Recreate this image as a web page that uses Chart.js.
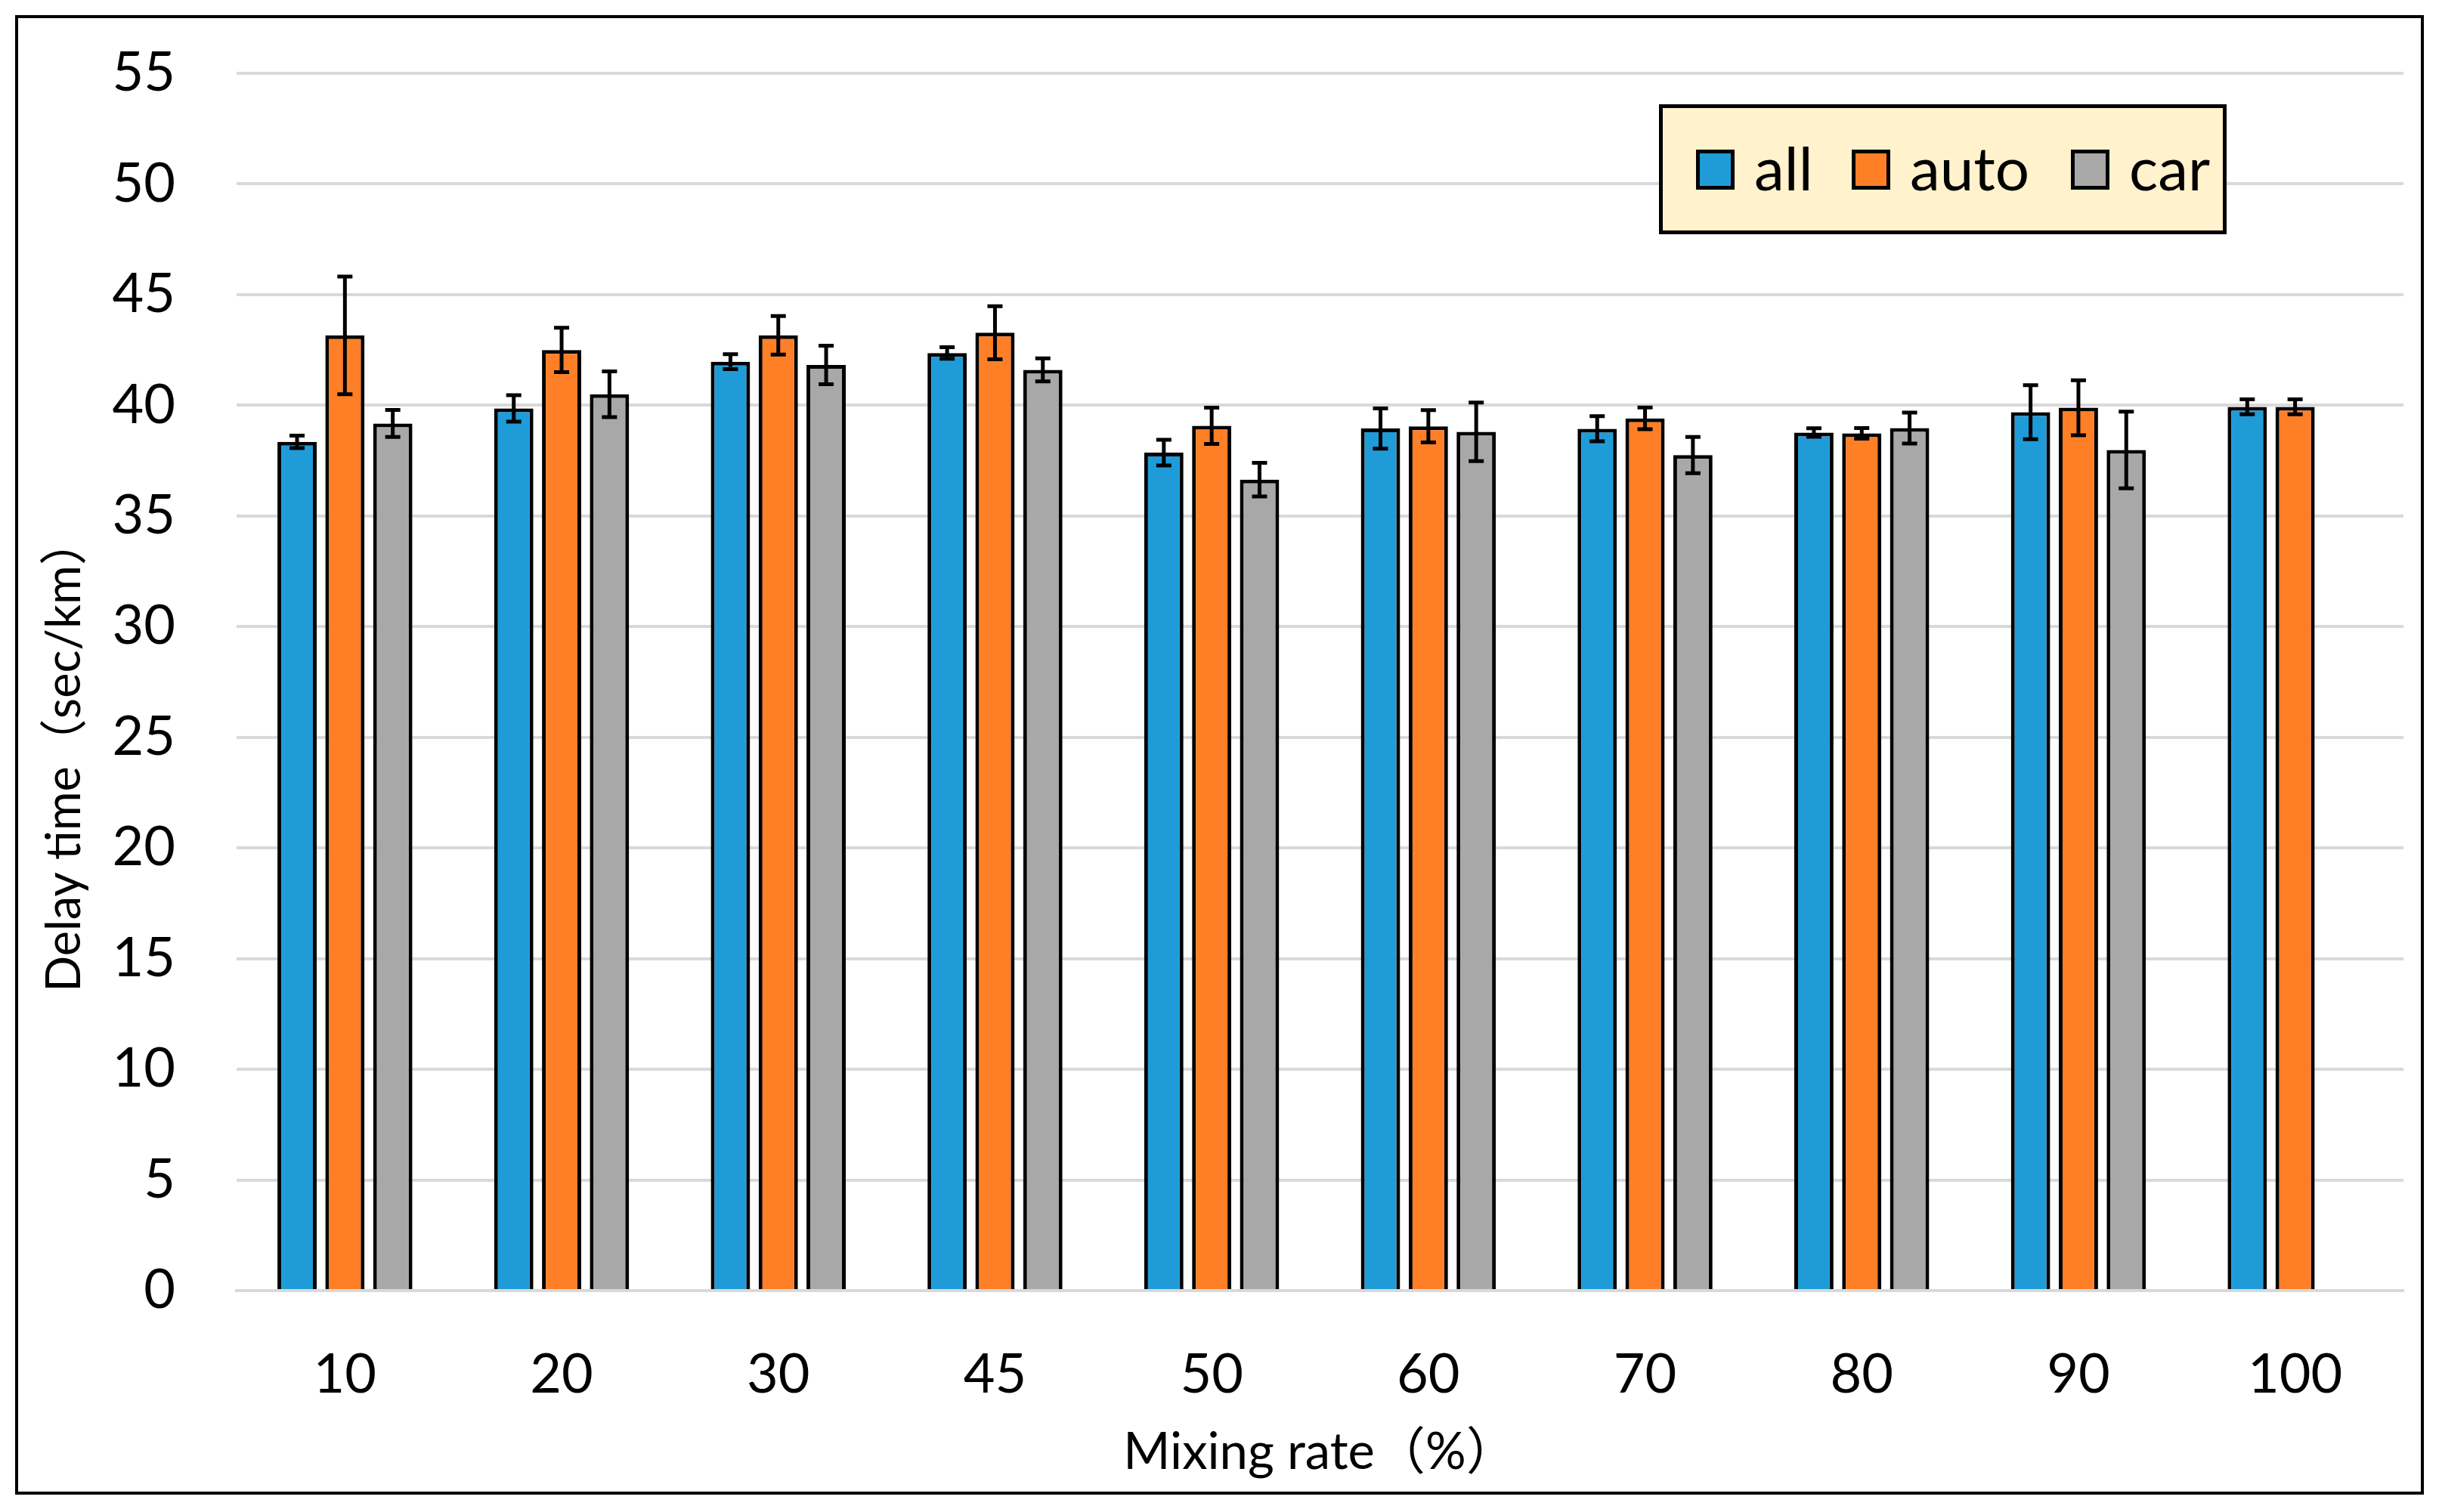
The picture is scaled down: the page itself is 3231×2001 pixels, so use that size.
<!DOCTYPE html>
<html>
<head>
<meta charset="utf-8">
<script src="https://cdn.jsdelivr.net/npm/chart.js@4.4.1/dist/chart.umd.min.js"></script>
<style>
  html, body { margin: 0; padding: 0; background: #ffffff; }
  canvas { display: block; }
</style>
</head>
<body>
<canvas id="c" width="3231" height="2001"></canvas>
<script>
// ---- data ----
const categories = ['10', '20', '30', '45', '50', '60', '70', '80', '90', '100'];
const seriesNames = ['all', 'auto', 'car'];
const allValues  = [38.35, 39.86, 41.97, 42.36, 37.86, 38.95, 38.94, 38.77, 39.69, 39.93];
const autoValues = [43.16, 42.50, 43.16, 43.28, 39.07, 39.05, 39.41, 38.73, 39.89, 39.93];
const carValues  = [39.18, 40.50, 41.82, 41.60, 36.64, 38.80, 37.75, 38.97, 37.98, null];
const allErrors  = [0.28, 0.60, 0.34, 0.26, 0.58, 0.91, 0.57, 0.19, 1.22, 0.34];
const autoErrors = [2.66, 1.00, 0.87, 1.20, 0.82, 0.73, 0.49, 0.24, 1.24, 0.34];
const carErrors  = [0.61, 1.03, 0.87, 0.52, 0.76, 1.32, 0.82, 0.70, 1.73, null];
const yTickMin = 0, yTickMax = 55, yTickStep = 5;
const xTitle = 'Mixing rate（%）';
const yTitle = 'Delay time（sec/km）';

const FONT = 'Lato, "Noto Sans CJK JP", sans-serif';
const colors = ['#1F9CD8', '#FF7F27', '#A8A8A8'];

const errorBarPlugin = {
  id: 'errorBars',
  afterDatasetsDraw(chart) {
    const ctx = chart.ctx;
    const yScale = chart.scales.y;
    ctx.save();
    ctx.strokeStyle = '#000000';
    ctx.lineWidth = 5;
    chart.data.datasets.forEach((ds, di) => {
      const meta = chart.getDatasetMeta(di);
      meta.data.forEach((bar, i) => {
        const v = ds.data[i];
        const e = ds.errors[i];
        if (v == null || e == null) return;
        const x = bar.x;
        const yHi = yScale.getPixelForValue(v + e);
        const yLo = yScale.getPixelForValue(v - e);
        const cap = 10;
        ctx.beginPath();
        ctx.moveTo(x, yHi); ctx.lineTo(x, yLo);
        ctx.moveTo(x - cap, yHi); ctx.lineTo(x + cap, yHi);
        ctx.moveTo(x - cap, yLo); ctx.lineTo(x + cap, yLo);
        ctx.stroke();
      });
    });
    ctx.restore();
  }
};

const decorPlugin = {
  id: 'decor',
  beforeDraw(chart) {
    const ctx = chart.ctx;
    ctx.save();
    ctx.fillStyle = '#ffffff';
    ctx.fillRect(0, 0, chart.width, chart.height);
    ctx.restore();
  },
  afterDraw(chart) {
    const ctx = chart.ctx;
    ctx.save();
    // outer frame
    ctx.strokeStyle = '#000000';
    ctx.lineWidth = 4;
    ctx.strokeRect(22, 22, 3183, 1954);

    // y axis title
    ctx.save();
    ctx.translate(86, 999);
    ctx.rotate(-Math.PI / 2);
    ctx.font = '63px ' + FONT;
    ctx.fillStyle = '#000000';
    ctx.textAlign = 'center';
    ctx.textBaseline = 'middle';
    ctx.fillText(yTitle, 0, 0);
    ctx.restore();

    // legend box
    const bx = 2197.5, by = 140.5, bw = 746, bh = 167;
    ctx.fillStyle = '#FFF2CC';
    ctx.fillRect(bx, by, bw, bh);
    ctx.lineWidth = 5;
    ctx.strokeStyle = '#000000';
    ctx.strokeRect(bx, by, bw, bh);
    ctx.font = '80px ' + FONT;
    ctx.textBaseline = 'alphabetic';
    ctx.textAlign = 'left';
    const itemX = [2244, 2450, 2740];
    const sw = 51, sh = 53, sy = 198;
    chart.data.datasets.forEach((ds, i) => {
      const x = itemX[i];
      ctx.fillStyle = ds.backgroundColor;
      ctx.fillRect(x, sy, sw, sh);
      ctx.lineWidth = 5;
      ctx.strokeStyle = '#000000';
      ctx.strokeRect(x + 2.5, sy + 2.5, sw - 5, sh - 5);
      ctx.fillStyle = '#000000';
      ctx.fillText(ds.label, x + sw + 26, 252);
    });
    ctx.restore();
  }
};

const datasets = [allValues, autoValues, carValues].map((vals, i) => ({
  label: seriesNames[i],
  data: vals,
  errors: [allErrors, autoErrors, carErrors][i],
  backgroundColor: colors[i],
  borderColor: '#000000',
  borderWidth: 5,
  borderSkipped: 'start',
  categoryPercentage: 0.6625,
  barPercentage: 0.82
}));

new Chart(document.getElementById('c'), {
  type: 'bar',
  data: { labels: categories, datasets },
  options: {
    responsive: false,
    devicePixelRatio: 1,
    animation: false,
    layout: { padding: { left: 0, right: 51, top: 97, bottom: 30 } },
    plugins: {
      legend: { display: false },
      tooltip: { enabled: false },
      title: { display: false }
    },
    scales: {
      x: {
        grid: { display: false },
        border: { display: true, color: '#D9D9D9', width: 4, z: 1 },
        ticks: { color: '#000000', font: { family: FONT, size: 72 }, padding: 61, maxRotation: 0, autoSkip: false },
        title: { display: true, text: xTitle, color: '#000000', font: { family: FONT, size: 67 }, padding: { top: 0, bottom: 8 } },
        afterFit(scale) { scale.height = 263; }
      },
      y: {
        min: yTickMin,
        max: yTickMax,
        grid: { color: '#D9D9D9', lineWidth: 4, drawTicks: false },
        border: { display: false },
        ticks: { stepSize: yTickStep, color: '#000000', font: { family: FONT, size: 72 }, padding: 81 },
        title: { display: false },
        afterFit(scale) {
          scale.width = 313;
          scale.paddingTop = 0;
          scale.paddingBottom = 0;
        }
      }
    }
  },
  plugins: [decorPlugin, errorBarPlugin]
});
</script>
</body>
</html>
